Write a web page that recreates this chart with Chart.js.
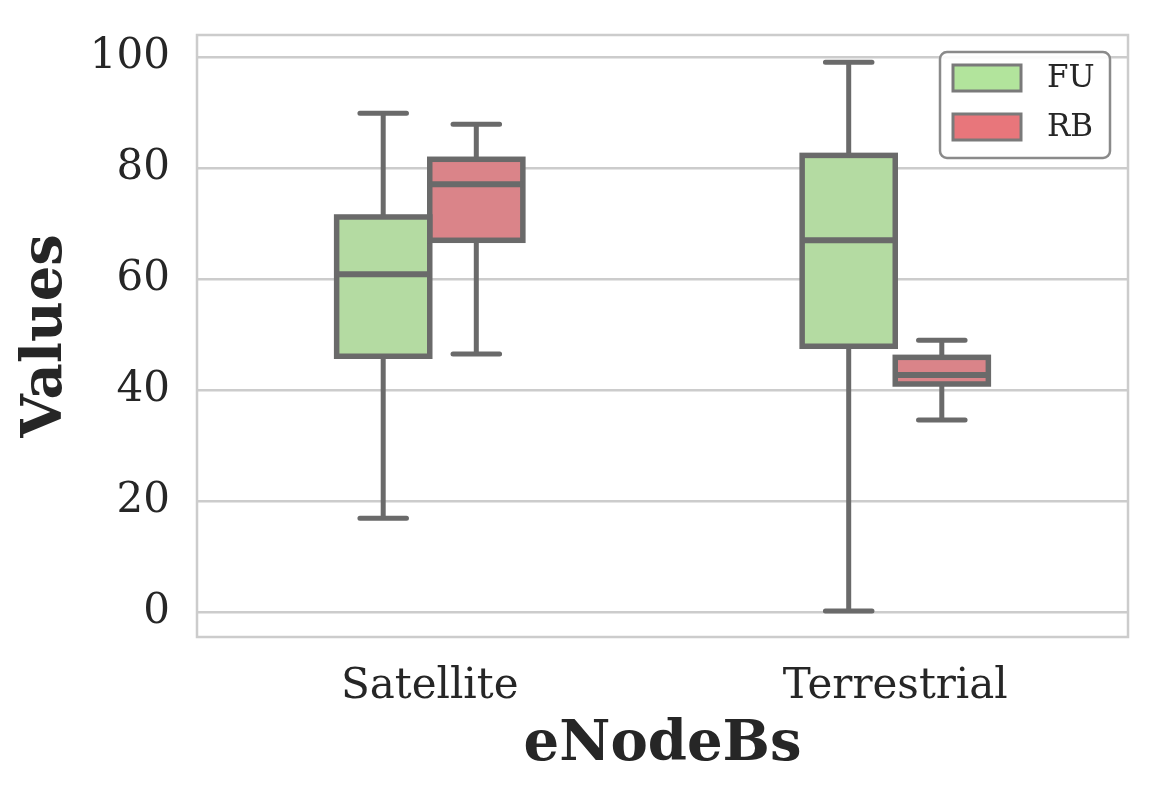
<!DOCTYPE html>
<html>
<head>
<meta charset="utf-8">
<script src="https://cdn.jsdelivr.net/npm/chart.js@4.4.0/dist/chart.umd.min.js"></script>
<style>
  html, body { margin: 0; padding: 0; background: #fff; }
  #wrap { width: 1164px; height: 792px; }
</style>
</head>
<body>
<div id="wrap"><canvas id="boxChart" width="1164" height="792"></canvas></div>
<script>
// categories and series (box stats)
const categories = ['Satellite', 'Terrestrial'];
const seriesNames = ['FU', 'RB'];

const fuMin = [16.9, 0.2];
const fuQ1 = [46.1, 47.9];
const fuMedian = [60.9, 67.0];
const fuQ3 = [71.2, 82.3];
const fuMax = [89.9, 99.1];

const rbMin = [46.5, 34.6];
const rbQ1 = [67.0, 41.1];
const rbMedian = [77.1, 42.7];
const rbQ3 = [81.6, 45.9];
const rbMax = [87.9, 49.0];

const yTicks = [0, 20, 40, 60, 80, 100];

const boxFill = ['#b4dba2', '#da8489'];
const legendFill = ['#b2e49c', '#e8767b'];
const edge = '#6a6a6a';
const textColor = '#262626';
const serif = "'DejaVu Serif', serif";

const stats = [
    { min: fuMin, q1: fuQ1, med: fuMedian, q3: fuQ3, max: fuMax },
    { min: rbMin, q1: rbQ1, med: rbMedian, q3: rbQ3, max: rbMax }
];

// whiskers under the boxes; box outlines and medians on top
const boxPlotPlugin = {
    id: 'boxPlot',
    beforeDatasetsDraw(chart) {
        const { ctx } = chart;
        const y = chart.scales.y;
        ctx.save();
        ctx.strokeStyle = edge;
        ctx.lineWidth = 5;
        stats.forEach((s, di) => {
            chart.getDatasetMeta(di).data.forEach((bar, i) => {
                const cap = bar.width / 4;
                const x = bar.x;
                ctx.lineCap = 'round';
                ctx.beginPath();
                ctx.moveTo(x - cap, y.getPixelForValue(s.max[i]));
                ctx.lineTo(x + cap, y.getPixelForValue(s.max[i]));
                ctx.moveTo(x - cap, y.getPixelForValue(s.min[i]));
                ctx.lineTo(x + cap, y.getPixelForValue(s.min[i]));
                ctx.stroke();
                ctx.lineCap = 'butt';
                ctx.beginPath();
                ctx.moveTo(x, y.getPixelForValue(s.max[i]));
                ctx.lineTo(x, y.getPixelForValue(s.q3[i]));
                ctx.moveTo(x, y.getPixelForValue(s.min[i]));
                ctx.lineTo(x, y.getPixelForValue(s.q1[i]));
                ctx.stroke();
            });
        });
        ctx.restore();
    },
    afterDatasetsDraw(chart) {
        const { ctx } = chart;
        const y = chart.scales.y;
        ctx.save();
        ctx.strokeStyle = edge;
        stats.forEach((s, di) => {
            chart.getDatasetMeta(di).data.forEach((bar, i) => {
                const half = bar.width / 2;
                const top = y.getPixelForValue(s.q3[i]);
                const bottom = y.getPixelForValue(s.q1[i]);
                ctx.lineWidth = 5.5;
                ctx.strokeRect(bar.x - half, top, bar.width, bottom - top);
                const py = y.getPixelForValue(s.med[i]);
                ctx.lineWidth = 6;
                ctx.beginPath();
                ctx.moveTo(bar.x - half, py);
                ctx.lineTo(bar.x + half, py);
                ctx.stroke();
            });
        });
        ctx.restore();
    },
    afterDraw(chart) {
        // frame round the plot area
        const { ctx, chartArea: a } = chart;
        ctx.save();
        ctx.strokeStyle = '#cccccc';
        ctx.lineWidth = 2.5;
        ctx.strokeRect(a.left, a.top, a.right - a.left, a.bottom - a.top);

        // legend box
        const lx = 940, ly = 52, lw = 170, lh = 106, r = 7;
        ctx.fillStyle = 'rgba(255,255,255,0.9)';
        ctx.strokeStyle = '#8a8a8a';
        ctx.lineWidth = 2.5;
        ctx.beginPath();
        ctx.roundRect(lx, ly, lw, lh, r);
        ctx.fill();
        ctx.stroke();
        seriesNames.forEach((name, i) => {
            const py = ly + 13 + i * 49;
            ctx.fillStyle = legendFill[i];
            ctx.fillRect(953, py, 68, 26);
            ctx.strokeStyle = '#7a7a7a';
            ctx.lineWidth = 3;
            ctx.strokeRect(953, py, 68, 26);
            ctx.fillStyle = textColor;
            ctx.font = '31px ' + serif;
            ctx.textBaseline = 'middle';
            ctx.textAlign = 'left';
            ctx.fillText(name, 1047, py + 14);
        });
        ctx.restore();
    }
};

const ctx = document.getElementById('boxChart').getContext('2d');

const boxChart = new Chart(ctx, {
    type: 'bar',
    data: {
        labels: categories,
        datasets: seriesNames.map((name, di) => ({
            label: name,
            data: stats[di].q1.map((q1, i) => [q1, stats[di].q3[i]]),
            backgroundColor: boxFill[di],
            borderWidth: 0,
            categoryPercentage: 0.4,
            barPercentage: 1.0
        }))
    },
    plugins: [boxPlotPlugin],
    options: {
        responsive: false,
        animation: false,
        layout: { padding: { top: 35, right: 36, left: 0, bottom: 0 } },
        plugins: {
            legend: { display: false },
            tooltip: { enabled: false }
        },
        scales: {
            x: {
                grid: { display: false },
                border: { display: false },
                ticks: {
                    color: textColor,
                    font: { family: serif, size: 42 },
                    padding: 17
                },
                title: {
                    display: true,
                    text: 'eNodeBs',
                    color: textColor,
                    font: { family: serif, size: 56, weight: 'bold' },
                    padding: { top: 0, bottom: 13 }
                },
                afterFit: (scale) => { scale.height = 155; }
            },
            y: {
                min: -4.5,
                max: 104,
                afterBuildTicks: (scale) => {
                    scale.ticks = yTicks.map(v => ({ value: v }));
                },
                grid: { color: '#cccccc', lineWidth: 2.5, drawTicks: false },
                border: { display: false },
                ticks: {
                    color: textColor,
                    font: { family: serif, size: 42 },
                    padding: 27
                },
                title: {
                    display: true,
                    text: 'Values',
                    color: textColor,
                    font: { family: serif, size: 56, weight: 'bold' },
                    padding: { top: 13, bottom: 0 }
                },
                afterFit: (scale) => {
                    scale.width = 197;
                    scale.paddingTop = 0;
                    scale.paddingBottom = 0;
                }
            }
        }
    }
});
</script>
</body>
</html>
